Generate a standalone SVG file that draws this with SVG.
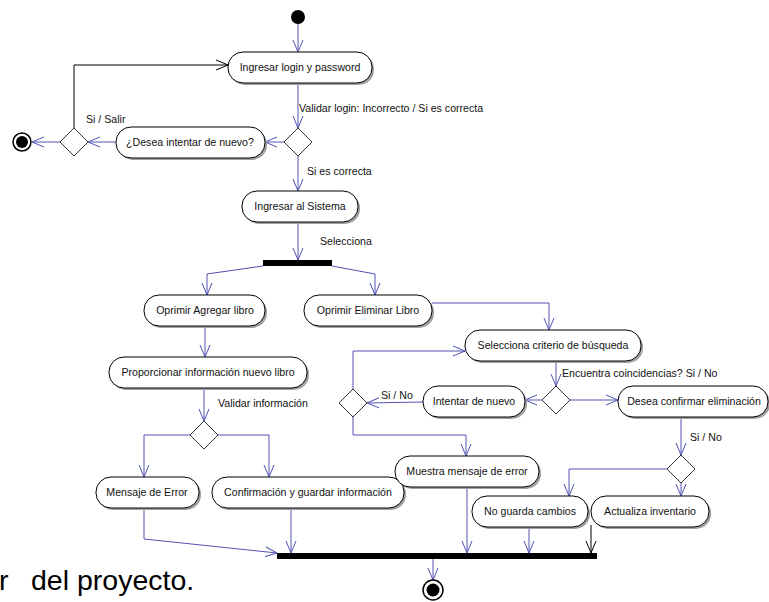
<svg xmlns="http://www.w3.org/2000/svg" width="769" height="602" viewBox="0 0 769 602">
<style>
.n rect.b{fill:#fff;stroke:#000;stroke-width:1}
.n rect.s{fill:#a0a0a0;stroke:none}
.n text,.lbl{font-family:"Liberation Sans",Arial,sans-serif;font-size:10.6px;fill:#111}
.n text{text-anchor:middle}
.d polygon{fill:#fff;stroke:#333;stroke-width:1}
.e path{fill:none;stroke:#5252b4;stroke-width:1;marker-end:url(#ab)}
.e path.k{stroke:#000;marker-end:url(#ak)}
</style>
<defs>
<marker id="ab" viewBox="0 0 12 12" refX="12" refY="6" markerWidth="12" markerHeight="12" markerUnits="userSpaceOnUse" orient="auto"><path d="M0,1 L12,6 L0,11" fill="none" stroke="#5252b4" stroke-width="1"/></marker>
<marker id="ak" viewBox="0 0 12 12" refX="12" refY="6" markerWidth="12" markerHeight="12" markerUnits="userSpaceOnUse" orient="auto"><path d="M0,1 L12,6 L0,11" fill="none" stroke="#000" stroke-width="1"/></marker>
</defs>
<rect width="769" height="602" fill="#fff"/>

<g id="edges" class="e">
<path d="M298,24 L298,52"/>
<path d="M298,83 L298,128"/>
<path d="M284,142 L265,142"/>
<path d="M116,142 L88,142"/>
<path d="M60,142 L32,142"/>
<path class="k" d="M74,128 L74,65 L228,65"/>
<path d="M298,156 L298,191"/>
<path d="M298,222 L298,260"/>
<path d="M263,266 L207,274 L207,295"/>
<path d="M332,266 L375,274 L375,295"/>
<path d="M205,326 L205,357"/>
<path d="M204,388 L204,421"/>
<path d="M190,435 L144,435 L144,477"/>
<path d="M218,435 L269,435 L269,477"/>
<path d="M144,508 L144,539 L277,553"/>
<path d="M291,508 L291,553"/>
<path d="M432,303 L549,303 L549,330"/>
<path d="M556,361 L556,386"/>
<path d="M542,400 L525,400"/>
<path d="M423,402 L367,403"/>
<path d="M353,389 L353,351 L465,351"/>
<path d="M353,417 L353,435 L466,435 L466,456"/>
<path d="M570,400 L618,400"/>
<path d="M681,417 L681,455"/>
<path d="M667,469 L569,469 L569,496"/>
<path d="M681,483 L681,496"/>
<path d="M467,487 L467,553"/>
<path d="M529,527 L529,553"/>
<path class="k" d="M591,525 L591,553"/>
<path d="M433,559 L433,580"/>
</g>

<g id="labels">
<text class="lbl" x="299" y="112">Validar login: Incorrecto / Si es correcta</text>
<text class="lbl" x="86" y="123">Si / Salir</text>
<text class="lbl" x="307" y="175">Si es correcta</text>
<text class="lbl" x="320" y="245">Selecciona</text>
<text class="lbl" x="218" y="407">Validar información</text>
<text class="lbl" x="562" y="377">Encuentra coincidencias? Si / No</text>
<text class="lbl" x="381" y="399">Si / No</text>
<text class="lbl" x="690" y="441">Si / No</text>
</g>

<g id="start"><circle cx="298" cy="17" r="7" fill="#000"/></g>
<g id="end1"><circle cx="22" cy="142" r="9" fill="#fff" stroke="#000" stroke-width="1.5"/><circle cx="22" cy="142" r="6" fill="#000"/></g>
<g id="end2"><circle cx="433" cy="590" r="10" fill="#fff" stroke="#000" stroke-width="1.5"/><circle cx="433" cy="590" r="6.5" fill="#000"/></g>

<g id="n1" class="n"><rect class="s" x="230" y="54" width="144" height="31" rx="15"/><rect class="b" x="228" y="52" width="144" height="31" rx="15"/><text x="300" y="71">Ingresar login y password</text></g>
<g id="n2" class="n"><rect class="s" x="118" y="129" width="149" height="31" rx="15"/><rect class="b" x="116" y="127" width="149" height="31" rx="15"/><text x="190" y="146">¿Desea intentar de nuevo?</text></g>
<g id="n3" class="n"><rect class="s" x="244" y="193" width="116" height="31" rx="15"/><rect class="b" x="242" y="191" width="116" height="31" rx="15"/><text x="300" y="210">Ingresar al Sistema</text></g>
<g id="n4" class="n"><rect class="s" x="146" y="297" width="121" height="31" rx="15"/><rect class="b" x="144" y="295" width="121" height="31" rx="15"/><text x="205" y="314">Oprimir Agregar libro</text></g>
<g id="n5" class="n"><rect class="s" x="306" y="297" width="128" height="31" rx="15"/><rect class="b" x="304" y="295" width="128" height="31" rx="15"/><text x="368" y="314">Oprimir Eliminar Libro</text></g>
<g id="n6" class="n"><rect class="s" x="111" y="359" width="198" height="31" rx="15"/><rect class="b" x="109" y="357" width="198" height="31" rx="15"/><text x="208" y="376">Proporcionar información nuevo libro</text></g>
<g id="n7" class="n"><rect class="s" x="98" y="479" width="103" height="31" rx="15"/><rect class="b" x="96" y="477" width="103" height="31" rx="15"/><text x="147" y="496">Mensaje de Error</text></g>
<g id="n8" class="n"><rect class="s" x="214" y="479" width="192" height="31" rx="15"/><rect class="b" x="212" y="477" width="192" height="31" rx="15"/><text x="308" y="496">Confirmación y guardar información</text></g>
<g id="n9" class="n"><rect class="s" x="467" y="332" width="176" height="31" rx="15"/><rect class="b" x="465" y="330" width="176" height="31" rx="15"/><text x="553" y="349">Selecciona criterio de búsqueda</text></g>
<g id="n10" class="n"><rect class="s" x="425" y="388" width="102" height="31" rx="15"/><rect class="b" x="423" y="386" width="102" height="31" rx="15"/><text x="474" y="405">Intentar de nuevo</text></g>
<g id="n11" class="n"><rect class="s" x="397" y="458" width="144" height="31" rx="15"/><rect class="b" x="395" y="456" width="144" height="31" rx="15"/><text x="467" y="475">Muestra mensaje de error</text></g>
<g id="n12" class="n"><rect class="s" x="620" y="388" width="150" height="31" rx="15"/><rect class="b" x="618" y="386" width="150" height="31" rx="15"/><text x="694" y="405">Desea confirmar eliminación</text></g>
<g id="n13" class="n"><rect class="s" x="474" y="498" width="116" height="31" rx="15"/><rect class="b" x="472" y="496" width="116" height="31" rx="15"/><text x="530" y="515">No guarda cambios</text></g>
<g id="n14" class="n"><rect class="s" x="593" y="498" width="118" height="31" rx="15"/><rect class="b" x="591" y="496" width="118" height="31" rx="15"/><text x="650" y="515">Actualiza inventario</text></g>

<g id="d1" class="d"><polygon points="298,128 312,142 298,156 284,142"/></g>
<g id="d2" class="d"><polygon points="74,128 88,142 74,156 60,142"/></g>
<g id="d3" class="d"><polygon points="204,421 218,435 204,449 190,435"/></g>
<g id="d4" class="d"><polygon points="556,386 570,400 556,414 542,400"/></g>
<g id="d5" class="d"><polygon points="353,389 367,403 353,417 339,403"/></g>
<g id="d6" class="d"><polygon points="681,455 695,469 681,483 667,469"/></g>

<g id="bar1"><rect x="263" y="260" width="69" height="6" fill="#000"/></g>
<g id="bar2"><rect x="277" y="553" width="320" height="6" fill="#000"/></g>

<text x="-1" y="590" font-family="Liberation Sans, Arial, sans-serif" font-size="28.5" fill="#000">r<tspan x="31">del proyecto.</tspan></text>
</svg>
